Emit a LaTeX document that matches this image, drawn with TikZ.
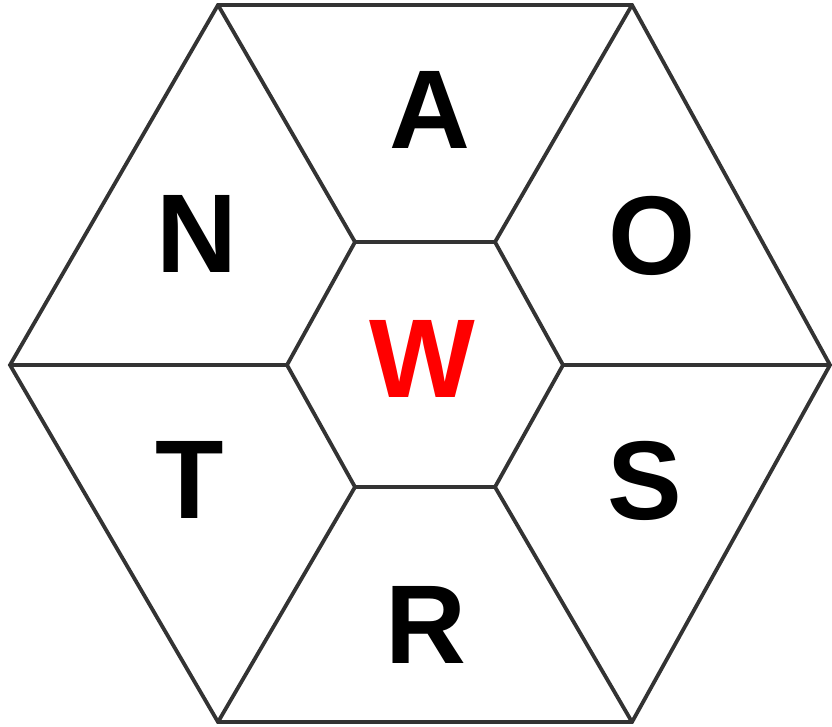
\documentclass[tikz,border=0pt]{standalone}
\usepackage{fontspec}
\setmainfont{Liberation Sans}
\begin{document}
\begin{tikzpicture}[x=1pt,y=-1pt,
  edge/.style={draw={rgb,255:red,51;green,51;blue,51},line width=3.8pt,line join=miter},
  letter/.style={inner sep=0pt,font=\fontsize{112}{112}\selectfont\bfseries}]
\useasboundingbox (0,0) rectangle (832,726);
% outer vertices
\coordinate (o1) at (218,5);
\coordinate (o2) at (632,5);
\coordinate (o3) at (830,365);
\coordinate (o4) at (632,722);
\coordinate (o5) at (218,722);
\coordinate (o6) at (10,365);
% inner vertices
\coordinate (i1) at (355,242);
\coordinate (i2) at (495,242);
\coordinate (i3) at (563,365);
\coordinate (i4) at (495,487);
\coordinate (i5) at (355,487);
\coordinate (i6) at (287,365);
\draw[edge] (o1) -- (o2) -- (o3) -- (o4) -- (o5) -- (o6) -- cycle;
\draw[edge] (i1) -- (i2) -- (i3) -- (i4) -- (i5) -- (i6) -- cycle;
\draw[edge] (i1) -- (o1);
\draw[edge] (i2) -- (o2);
\draw[edge] (i3) -- (o3);
\draw[edge] (i4) -- (o4);
\draw[edge] (i5) -- (o5);
\draw[edge] (i6) -- (o6);
\node[letter] (A) at (430,110) {A};
\node[letter] (O) at (652,236) {O};
\node[letter] (S) at (645,481) {S};
\node[letter] (R) at (426,625) {R};
\node[letter] (T) at (190,480) {T};
\node[letter] (N) at (197,234) {N};
\node[letter,text=red] (W) at (422,359) {W};
\end{tikzpicture}
\end{document}
